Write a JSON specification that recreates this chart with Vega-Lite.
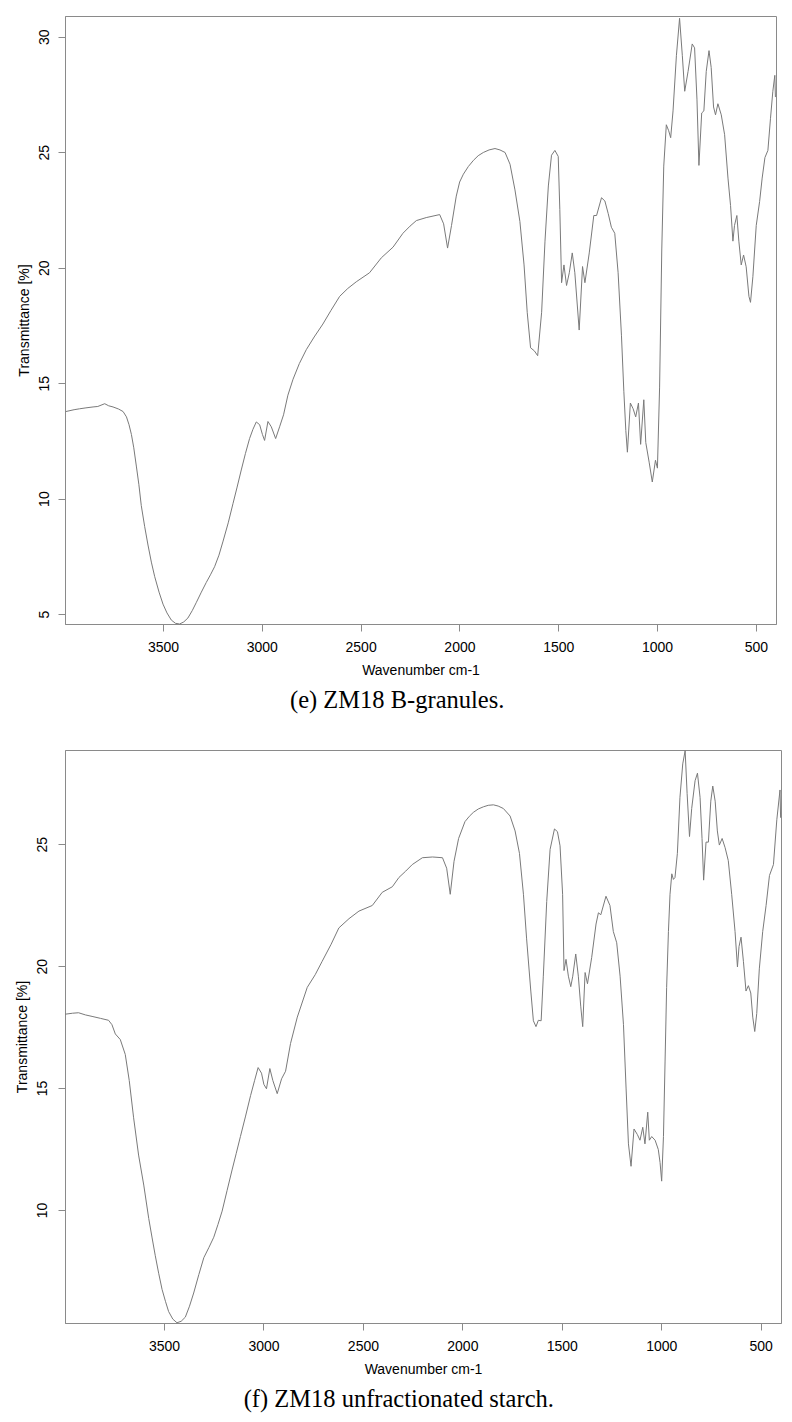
{
  "$schema": "https://vega.github.io/schema/vega-lite/v6.json",
  "background": "white",
  "padding": {"left": 14, "top": 15, "right": 5, "bottom": 5},
  "spacing": 35,
  "config": {
    "view": {"stroke": "#8a8a8a", "strokeWidth": 1},
    "font": "Liberation Sans",
    "axis": {
      "grid": false,
      "domainColor": "#8a8a8a",
      "tickColor": "#8a8a8a",
      "tickSize": 7,
      "labelFont": "Liberation Sans",
      "labelFontSize": 14,
      "labelColor": "#000000",
      "titleFont": "Liberation Sans",
      "titleFontSize": 14,
      "titleFontWeight": "normal",
      "titleColor": "#000000"
    },
    "title": {
      "font": "Liberation Serif",
      "fontSize": 24.5,
      "fontWeight": "normal",
      "color": "#000000",
      "orient": "bottom",
      "anchor": "middle",
      "frame": "bounds",
      "offset": 12
    }
  },
  "datasets": {
    "e": [
      {"w":3992,"t":13.77},{"w":3950,"t":13.85},{"w":3922,"t":13.89},{"w":3890,"t":13.93},{"w":3854,"t":13.97},{"w":3830,"t":13.99},{"w":3795,"t":14.11},{"w":3775,"t":14.02},{"w":3753,"t":13.97},{"w":3725,"t":13.88},{"w":3702,"t":13.77},{"w":3685,"t":13.54},{"w":3672,"t":13.20},{"w":3660,"t":12.78},{"w":3648,"t":12.20},{"w":3635,"t":11.41},{"w":3622,"t":10.60},{"w":3610,"t":9.70},{"w":3593,"t":8.80},{"w":3576,"t":7.99},{"w":3559,"t":7.25},{"w":3542,"t":6.62},{"w":3520,"t":5.95},{"w":3500,"t":5.43},{"w":3480,"t":5.05},{"w":3458,"t":4.74},{"w":3437,"t":4.60},{"w":3416,"t":4.57},{"w":3395,"t":4.66},{"w":3374,"t":4.83},{"w":3352,"t":5.15},{"w":3331,"t":5.51},{"w":3306,"t":5.95},{"w":3281,"t":6.37},{"w":3260,"t":6.70},{"w":3239,"t":7.05},{"w":3217,"t":7.55},{"w":3196,"t":8.16},{"w":3170,"t":8.95},{"w":3146,"t":9.78},{"w":3125,"t":10.50},{"w":3104,"t":11.24},{"w":3083,"t":11.95},{"w":3062,"t":12.60},{"w":3045,"t":13.00},{"w":3028,"t":13.32},{"w":3011,"t":13.20},{"w":2997,"t":12.78},{"w":2986,"t":12.52},{"w":2969,"t":13.34},{"w":2952,"t":13.11},{"w":2930,"t":12.60},{"w":2910,"t":13.11},{"w":2890,"t":13.63},{"w":2868,"t":14.48},{"w":2842,"t":15.17},{"w":2810,"t":15.85},{"w":2775,"t":16.45},{"w":2735,"t":17.00},{"w":2691,"t":17.56},{"w":2650,"t":18.15},{"w":2606,"t":18.76},{"w":2565,"t":19.10},{"w":2522,"t":19.39},{"w":2455,"t":19.78},{"w":2395,"t":20.43},{"w":2336,"t":20.89},{"w":2286,"t":21.49},{"w":2250,"t":21.80},{"w":2218,"t":22.04},{"w":2168,"t":22.17},{"w":2100,"t":22.30},{"w":2080,"t":21.90},{"w":2060,"t":20.85},{"w":2040,"t":21.83},{"w":2016,"t":23.10},{"w":1999,"t":23.71},{"w":1980,"t":24.05},{"w":1955,"t":24.38},{"w":1929,"t":24.65},{"w":1905,"t":24.85},{"w":1879,"t":24.99},{"w":1850,"t":25.10},{"w":1820,"t":25.16},{"w":1795,"t":25.10},{"w":1769,"t":24.99},{"w":1744,"t":24.48},{"w":1719,"t":23.37},{"w":1694,"t":22.00},{"w":1673,"t":20.12},{"w":1657,"t":18.07},{"w":1640,"t":16.53},{"w":1621,"t":16.40},{"w":1604,"t":16.19},{"w":1584,"t":18.07},{"w":1567,"t":21.15},{"w":1550,"t":23.54},{"w":1534,"t":24.87},{"w":1517,"t":25.08},{"w":1500,"t":24.82},{"w":1492,"t":22.52},{"w":1483,"t":19.35},{"w":1471,"t":20.12},{"w":1458,"t":19.23},{"w":1444,"t":19.78},{"w":1429,"t":20.64},{"w":1416,"t":19.78},{"w":1394,"t":17.30},{"w":1377,"t":20.05},{"w":1365,"t":19.35},{"w":1343,"t":20.64},{"w":1320,"t":22.26},{"w":1306,"t":22.26},{"w":1281,"t":23.03},{"w":1264,"t":22.89},{"w":1247,"t":22.34},{"w":1231,"t":21.75},{"w":1214,"t":21.49},{"w":1197,"t":19.78},{"w":1180,"t":17.05},{"w":1168,"t":14.65},{"w":1158,"t":12.95},{"w":1150,"t":12.01},{"w":1135,"t":14.14},{"w":1121,"t":13.89},{"w":1108,"t":13.54},{"w":1094,"t":14.14},{"w":1083,"t":12.35},{"w":1067,"t":14.28},{"w":1057,"t":12.43},{"w":1040,"t":11.58},{"w":1024,"t":10.72},{"w":1008,"t":11.66},{"w":998,"t":11.32},{"w":987,"t":14.83},{"w":976,"t":20.81},{"w":966,"t":24.40},{"w":953,"t":26.19},{"w":941,"t":25.93},{"w":931,"t":25.63},{"w":919,"t":26.79},{"w":902,"t":29.18},{"w":886,"t":30.80},{"w":872,"t":29.18},{"w":860,"t":27.64},{"w":843,"t":28.50},{"w":822,"t":29.69},{"w":810,"t":29.52},{"w":798,"t":27.30},{"w":788,"t":24.43},{"w":774,"t":26.70},{"w":763,"t":26.79},{"w":751,"t":28.50},{"w":737,"t":29.40},{"w":726,"t":28.67},{"w":714,"t":26.96},{"w":704,"t":26.62},{"w":692,"t":27.10},{"w":675,"t":26.62},{"w":658,"t":25.76},{"w":641,"t":23.88},{"w":628,"t":22.69},{"w":616,"t":21.15},{"w":608,"t":21.83},{"w":596,"t":22.26},{"w":586,"t":21.15},{"w":574,"t":20.12},{"w":562,"t":20.55},{"w":549,"t":20.04},{"w":535,"t":18.76},{"w":527,"t":18.50},{"w":515,"t":19.61},{"w":498,"t":21.83},{"w":481,"t":22.86},{"w":468,"t":23.88},{"w":454,"t":24.77},{"w":439,"t":25.08},{"w":426,"t":26.45},{"w":414,"t":27.64},{"w":404,"t":28.33},{"w":401,"t":27.39}
    ],
    "f": [
      {"w":3997,"t":18.03},{"w":3960,"t":18.07},{"w":3930,"t":18.09},{"w":3895,"t":18.00},{"w":3862,"t":17.94},{"w":3820,"t":17.86},{"w":3779,"t":17.78},{"w":3762,"t":17.60},{"w":3745,"t":17.22},{"w":3720,"t":16.99},{"w":3695,"t":16.38},{"w":3675,"t":15.31},{"w":3653,"t":13.78},{"w":3628,"t":12.25},{"w":3602,"t":11.02},{"w":3577,"t":9.65},{"w":3560,"t":8.85},{"w":3544,"t":8.12},{"w":3527,"t":7.40},{"w":3510,"t":6.74},{"w":3493,"t":6.25},{"w":3477,"t":5.83},{"w":3456,"t":5.52},{"w":3435,"t":5.37},{"w":3414,"t":5.43},{"w":3393,"t":5.60},{"w":3372,"t":6.05},{"w":3351,"t":6.59},{"w":3325,"t":7.35},{"w":3300,"t":8.04},{"w":3275,"t":8.45},{"w":3250,"t":8.88},{"w":3229,"t":9.40},{"w":3208,"t":9.95},{"w":3183,"t":10.80},{"w":3158,"t":11.64},{"w":3137,"t":12.32},{"w":3116,"t":13.01},{"w":3090,"t":13.85},{"w":3065,"t":14.69},{"w":3045,"t":15.30},{"w":3027,"t":15.84},{"w":3010,"t":15.61},{"w":2998,"t":15.15},{"w":2985,"t":14.97},{"w":2968,"t":15.80},{"w":2953,"t":15.31},{"w":2931,"t":14.77},{"w":2909,"t":15.38},{"w":2889,"t":15.69},{"w":2864,"t":16.83},{"w":2830,"t":17.91},{"w":2780,"t":19.13},{"w":2740,"t":19.65},{"w":2705,"t":20.20},{"w":2660,"t":20.90},{"w":2621,"t":21.57},{"w":2570,"t":21.95},{"w":2520,"t":22.26},{"w":2453,"t":22.49},{"w":2403,"t":23.03},{"w":2352,"t":23.26},{"w":2319,"t":23.64},{"w":2285,"t":23.90},{"w":2252,"t":24.17},{"w":2201,"t":24.45},{"w":2150,"t":24.48},{"w":2100,"t":24.45},{"w":2079,"t":24.02},{"w":2061,"t":22.95},{"w":2042,"t":24.30},{"w":2019,"t":25.24},{"w":1987,"t":25.93},{"w":1965,"t":26.15},{"w":1945,"t":26.31},{"w":1920,"t":26.45},{"w":1894,"t":26.54},{"w":1870,"t":26.60},{"w":1844,"t":26.62},{"w":1820,"t":26.57},{"w":1794,"t":26.47},{"w":1760,"t":26.16},{"w":1735,"t":25.55},{"w":1713,"t":24.63},{"w":1693,"t":22.95},{"w":1677,"t":21.12},{"w":1656,"t":18.98},{"w":1643,"t":17.76},{"w":1630,"t":17.52},{"w":1618,"t":17.78},{"w":1604,"t":17.76},{"w":1593,"t":19.59},{"w":1576,"t":22.65},{"w":1559,"t":24.79},{"w":1537,"t":25.63},{"w":1522,"t":25.52},{"w":1509,"t":24.94},{"w":1496,"t":22.95},{"w":1489,"t":19.82},{"w":1479,"t":20.28},{"w":1467,"t":19.59},{"w":1455,"t":19.16},{"w":1445,"t":19.59},{"w":1430,"t":20.50},{"w":1417,"t":19.59},{"w":1405,"t":18.36},{"w":1395,"t":17.52},{"w":1383,"t":19.74},{"w":1371,"t":19.28},{"w":1350,"t":20.35},{"w":1328,"t":21.73},{"w":1316,"t":22.19},{"w":1304,"t":22.11},{"w":1278,"t":22.87},{"w":1258,"t":22.49},{"w":1241,"t":21.42},{"w":1224,"t":20.96},{"w":1207,"t":19.59},{"w":1190,"t":17.60},{"w":1177,"t":15.00},{"w":1165,"t":12.71},{"w":1152,"t":11.79},{"w":1137,"t":13.32},{"w":1120,"t":13.09},{"w":1107,"t":12.86},{"w":1093,"t":13.39},{"w":1082,"t":12.71},{"w":1068,"t":14.01},{"w":1060,"t":12.86},{"w":1048,"t":13.01},{"w":1031,"t":12.86},{"w":1015,"t":12.48},{"w":1006,"t":11.94},{"w":998,"t":11.18},{"w":989,"t":13.01},{"w":981,"t":16.07},{"w":973,"t":19.13},{"w":964,"t":21.42},{"w":956,"t":22.95},{"w":947,"t":23.79},{"w":939,"t":23.56},{"w":931,"t":23.64},{"w":919,"t":24.63},{"w":906,"t":26.93},{"w":892,"t":28.30},{"w":880,"t":28.84},{"w":870,"t":27.08},{"w":858,"t":25.32},{"w":847,"t":26.47},{"w":830,"t":27.61},{"w":818,"t":27.92},{"w":805,"t":26.93},{"w":795,"t":25.24},{"w":787,"t":23.53},{"w":775,"t":25.09},{"w":763,"t":25.09},{"w":751,"t":26.77},{"w":741,"t":27.39},{"w":729,"t":26.77},{"w":718,"t":25.55},{"w":708,"t":24.97},{"w":694,"t":25.24},{"w":679,"t":24.86},{"w":663,"t":24.33},{"w":646,"t":22.95},{"w":629,"t":21.42},{"w":617,"t":19.97},{"w":609,"t":20.81},{"w":599,"t":21.19},{"w":587,"t":20.20},{"w":574,"t":18.98},{"w":562,"t":19.20},{"w":550,"t":18.90},{"w":540,"t":17.91},{"w":530,"t":17.32},{"w":520,"t":18.06},{"w":507,"t":19.89},{"w":490,"t":21.42},{"w":473,"t":22.49},{"w":456,"t":23.72},{"w":436,"t":24.17},{"w":419,"t":26.01},{"w":403,"t":27.23},{"w":400,"t":26.09}
    ]
  },
  "vconcat": [
    {
      "title": {"text": "(e) ZM18 B-granules."},
      "width": 711,
      "height": 608,
      "data": {"name": "e"},
      "mark": {"type": "line", "color": "#7a7a7a", "strokeWidth": 1, "interpolate": "linear"},
      "encoding": {
        "x": {
          "field": "w", "type": "quantitative",
          "scale": {"domain": [3996, 398], "nice": false, "zero": false},
          "axis": {"title": "Wavenumber cm-1", "format": "d", "values": [3500, 3000, 2500, 2000, 1500, 1000, 500], "labelPadding": 9, "titlePadding": 9, "labelFlush": false}
        },
        "y": {
          "field": "t", "type": "quantitative",
          "scale": {"domain": [4.57, 30.9], "nice": false, "zero": false},
          "axis": {"title": "Transmittance [%]", "format": "d", "values": [5, 10, 15, 20, 25, 30], "labelAngle": -90, "labelPadding": 7, "titlePadding": 6, "labelFlush": false}
        }
      }
    },
    {
      "title": {"text": "(f) ZM18 unfractionated starch."},
      "width": 716,
      "height": 573,
      "data": {"name": "f"},
      "mark": {"type": "line", "color": "#7a7a7a", "strokeWidth": 1, "interpolate": "linear"},
      "encoding": {
        "x": {
          "field": "w", "type": "quantitative",
          "scale": {"domain": [3998, 398], "nice": false, "zero": false},
          "axis": {"title": "Wavenumber cm-1", "format": "d", "values": [3500, 3000, 2500, 2000, 1500, 1000, 500], "labelPadding": 9, "titlePadding": 9, "labelFlush": false}
        },
        "y": {
          "field": "t", "type": "quantitative",
          "scale": {"domain": [5.36, 28.87], "nice": false, "zero": false},
          "axis": {"title": "Transmittance [%]", "format": "d", "values": [10, 15, 20, 25], "labelAngle": -90, "labelPadding": 9, "titlePadding": 6, "labelFlush": false}
        }
      }
    }
  ]
}
